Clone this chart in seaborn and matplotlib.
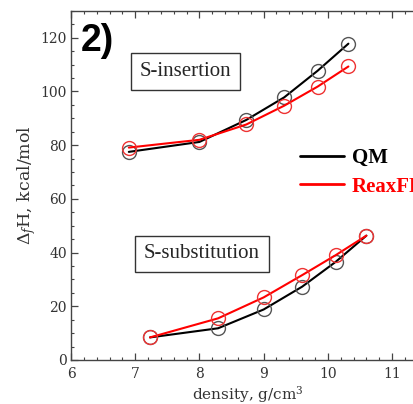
import pandas as pd
import seaborn as sns
import matplotlib.pyplot as plt
from matplotlib.lines import Line2D
from matplotlib.ticker import MultipleLocator

# ===== Data =====
ins_density = [6.90, 8.00, 8.73, 9.32, 9.84, 10.32]
ins_qm = [77.5, 81.2, 89.4, 97.8, 107.7, 117.8]
ins_reax = [79.1, 82.0, 87.7, 94.7, 101.8, 109.3]

sub_density = [7.23, 8.29, 9.00, 9.60, 10.12, 10.60]
sub_qm = [8.4, 11.8, 18.8, 27.3, 36.5, 46.3]
sub_reax = [8.4, 15.5, 23.3, 31.6, 39.0, 46.3]

methods = ["QM", "ReaxFF"]
line_colors = {"QM": "black", "ReaxFF": "#ff0000"}
marker_colors = {"QM": "#555555", "ReaxFF": "#ee3333"}

rows = []
for d, q, r in zip(ins_density, ins_qm, ins_reax):
    rows.append((d, q, "QM", "S-insertion"))
    rows.append((d, r, "ReaxFF", "S-insertion"))
for d, q, r in zip(sub_density, sub_qm, sub_reax):
    rows.append((d, q, "QM", "S-substitution"))
    rows.append((d, r, "ReaxFF", "S-substitution"))
df = pd.DataFrame(rows, columns=["density", "dH", "method", "case"])

# ===== Plot =====
sns.set_style("ticks")
plt.rcParams["font.family"] = ["DejaVu Serif"]
plt.rcParams["mathtext.fontset"] = "dejavuserif"

fig = plt.figure(figsize=(4.13, 4.04), dpi=100)
ax = fig.add_axes([0.172, 0.109, 0.855, 0.864])

for m in methods:
    sub = df[df["method"] == m]
    sns.lineplot(data=sub, x="density", y="dH", units="case", estimator=None,
                 sort=False, color=line_colors[m], lw=1.5, marker="o", ms=10,
                 mfc="none", mec=marker_colors[m], mew=1.0, legend=False, ax=ax)

ax.set_xlim(6, 11.5)
ax.set_ylim(0, 130)
ax.xaxis.set_major_locator(MultipleLocator(1))
ax.xaxis.set_minor_locator(MultipleLocator(0.2))
ax.yaxis.set_major_locator(MultipleLocator(20))
ax.yaxis.set_minor_locator(MultipleLocator(5))
ax.tick_params(which="both", direction="in", top=True, right=True,
               color="#444444", labelsize=10, labelcolor="#333333")
ax.tick_params(which="major", length=5, width=0.9)
ax.tick_params(which="minor", length=2.5, width=0.8)
ax.tick_params(axis="x", pad=5)
ax.tick_params(axis="y", pad=3)
for s in ax.spines.values():
    s.set_color("#444444")
    s.set_linewidth(1.0)

ax.set_xlabel("density, g/cm$^3$", fontsize=11, color="#333333", labelpad=2)
ax.set_ylabel(r"$\Delta_f$H, kcal/mol", fontsize=12.5, color="#333333", labelpad=2)

box = dict(boxstyle="square,pad=0.42", fc="white", ec="#333333", lw=1.0)
ax.text(7.78, 107.4, "S-insertion", family="Liberation Serif", fontsize=15,
        ha="center", va="center", bbox=box)
ax.text(8.04, 39.5, "S-substitution", family="Liberation Serif", fontsize=15,
        ha="center", va="center", bbox=box)

ax.text(0.028, 0.965, "2)", transform=ax.transAxes, family="Liberation Sans",
        fontsize=27, fontweight="bold", color="black", ha="left", va="top")

handles = [Line2D([], [], color=line_colors[m], lw=2) for m in methods]
ax.legend(handles, methods, loc="upper left", bbox_to_anchor=(0.595, 0.66),
          frameon=False, handlelength=2.1, handletextpad=0.4, labelspacing=0.4,
          labelcolor=[line_colors[m] for m in methods],
          prop=dict(family="Liberation Serif", weight="bold", size=15))

fig.savefig("out.png", dpi=100)
